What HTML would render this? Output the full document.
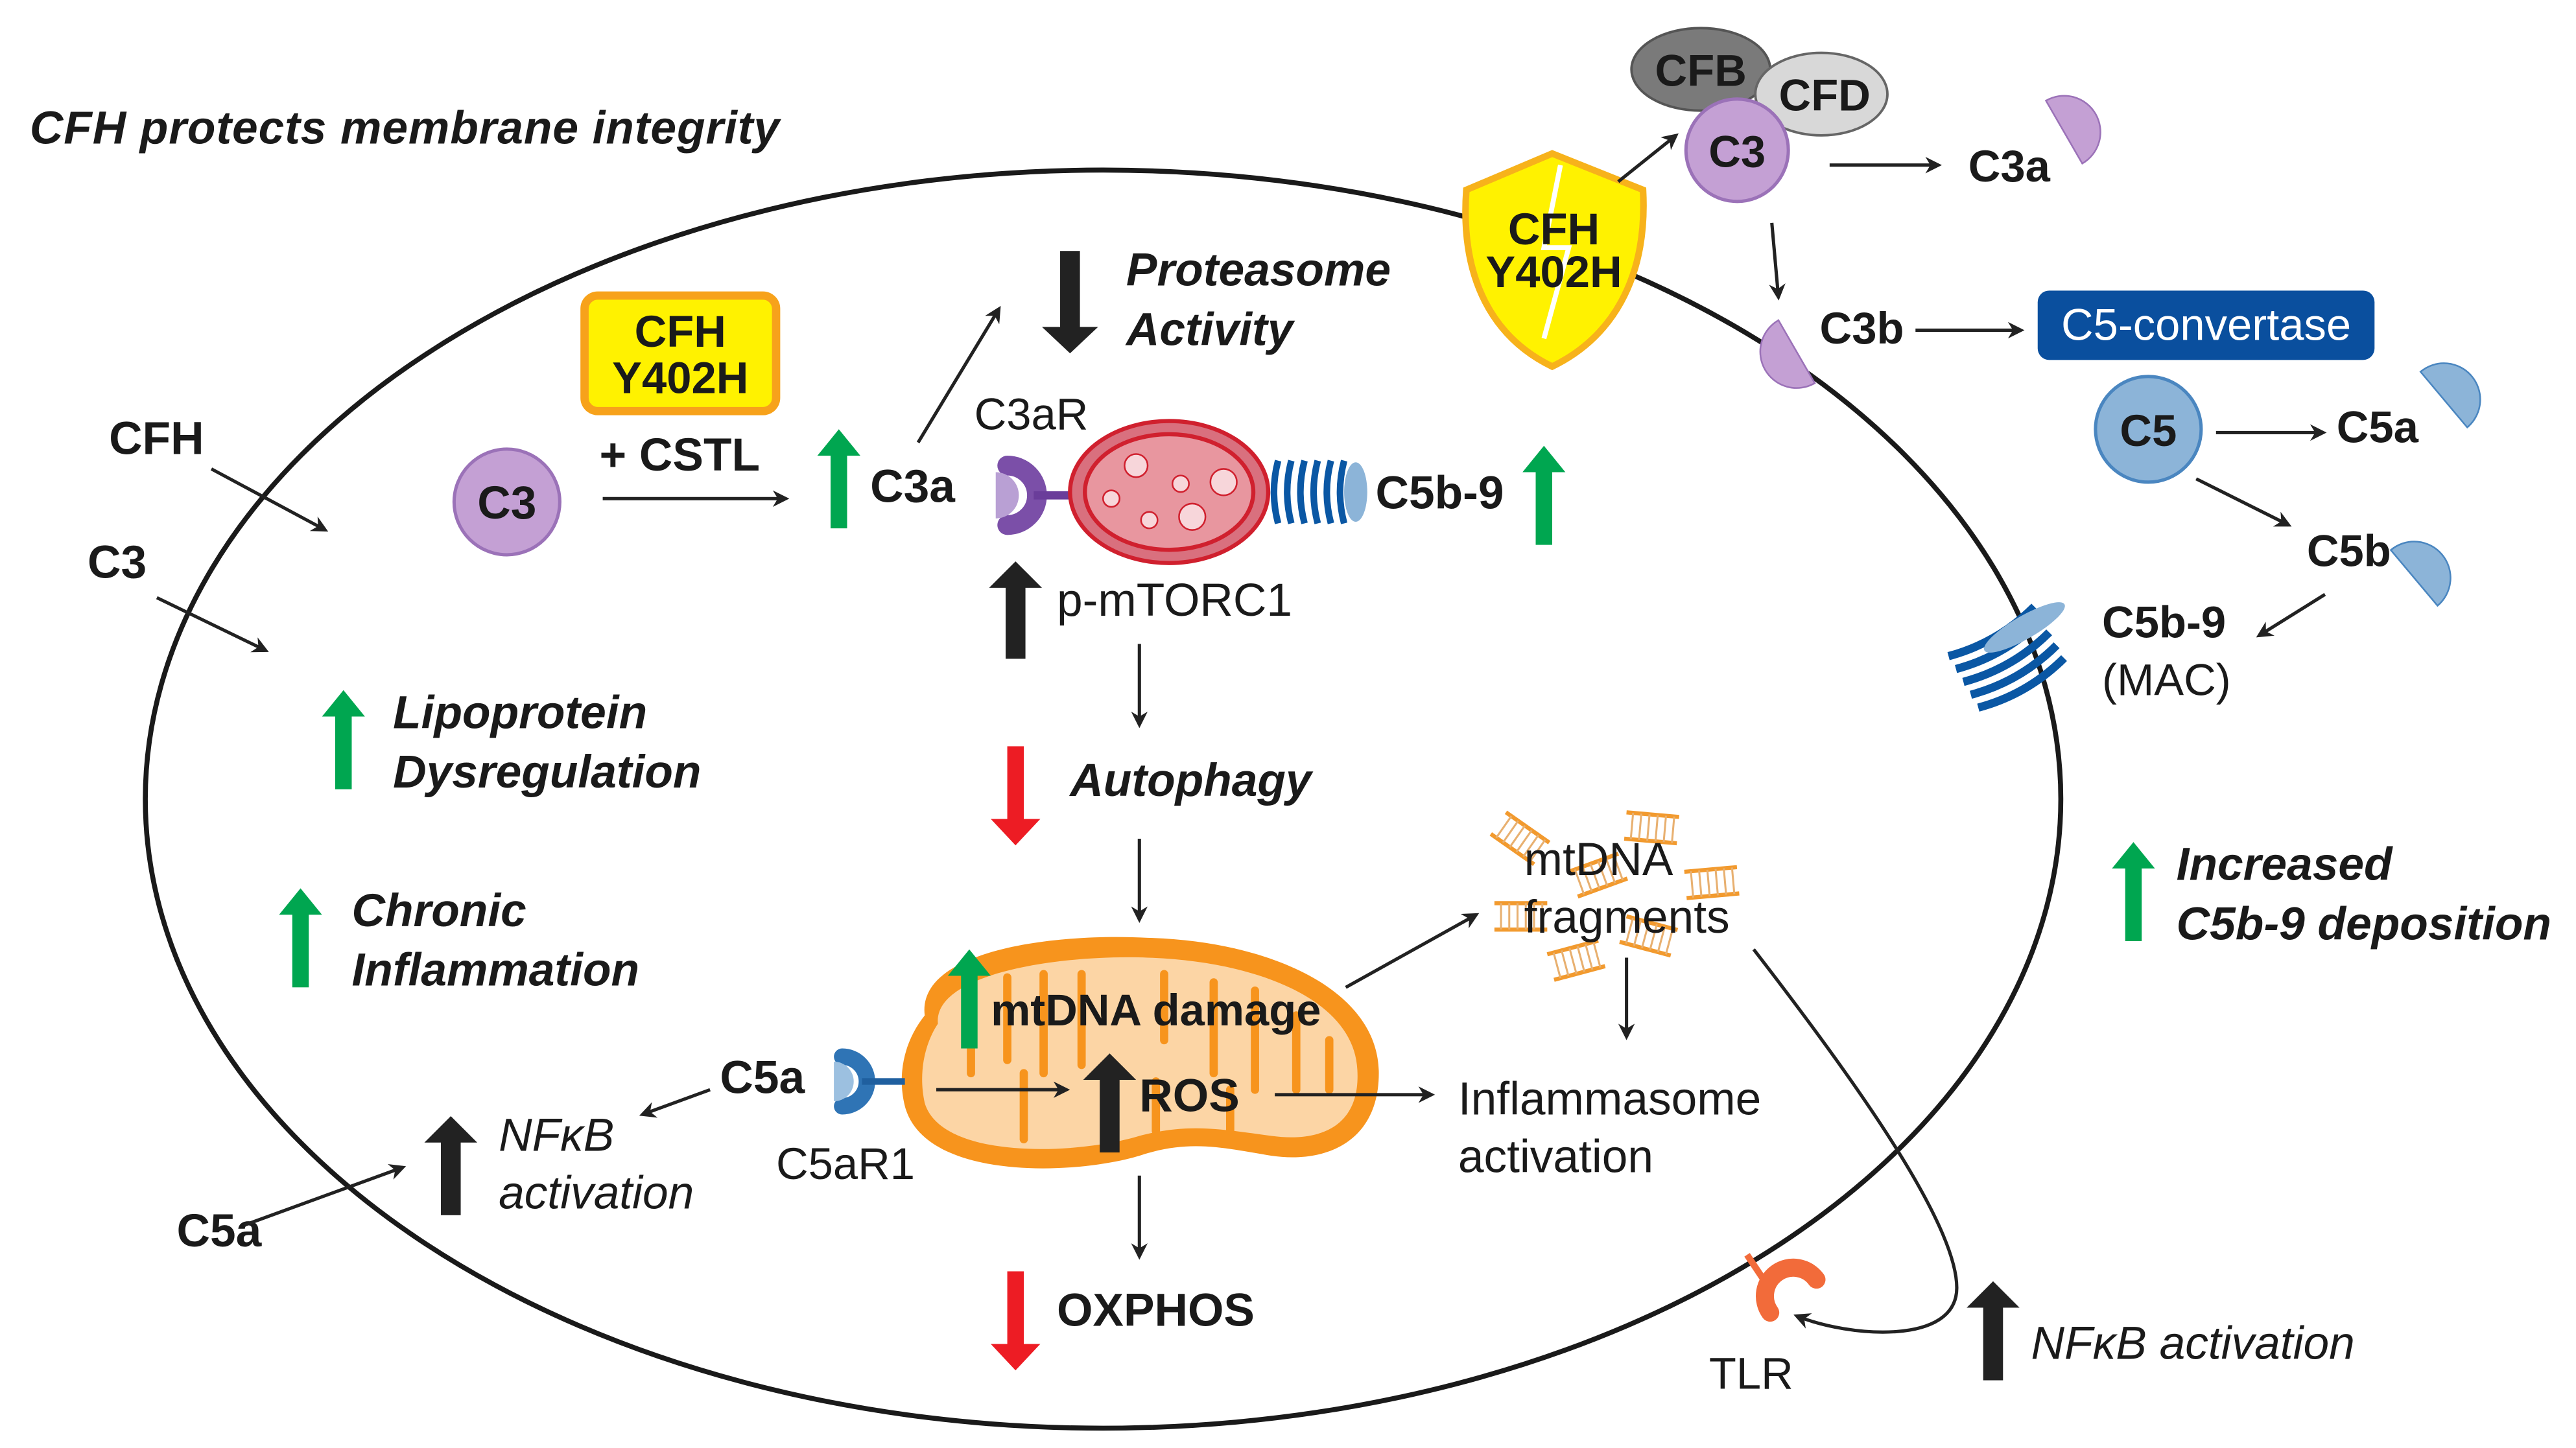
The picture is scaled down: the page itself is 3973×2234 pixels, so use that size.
<!DOCTYPE html>
<html><head><meta charset="utf-8"><style>
html,body{margin:0;padding:0;background:#fff;}
svg{display:block;}
text{font-family:"Liberation Sans",Arial,sans-serif;fill:#1a1a1a;}
.b{font-weight:bold;}
.bi{font-weight:bold;font-style:italic;}
.i{font-style:italic;}
</style></head><body>
<svg width="3973" height="2234" viewBox="0 0 1560 877" preserveAspectRatio="none" xmlns="http://www.w3.org/2000/svg">
<defs>
<marker id="ah" markerWidth="10" markerHeight="10" refX="8" refY="5" orient="auto" markerUnits="userSpaceOnUse" viewBox="0 0 10 10">
<path d="M0,0 L10,5 L0,10 L3,5 Z" fill="#222"/></marker>
<g id="up"><rect x="-5" y="12" width="10" height="46" /><polygon points="-13,14 0,-2 13,14"/></g>
<g id="ladder" stroke="#f29a2e" fill="none" stroke-width="2.5">
<line x1="0" y1="0" x2="32" y2="0"/><line x1="0" y1="16" x2="32" y2="16"/>
<path d="M4,0v16M9,0v16M14,0v16M19,0v16M24,0v16M29,0v16" stroke-width="1.2" stroke="#e8b070"/></g>
<g id="half"><path d="M0,-22 A22,22 0 0,1 0,22 Z"/></g>
</defs>

<ellipse cx="668" cy="484" rx="580" ry="381" fill="none" stroke="#1a1a1a" stroke-width="3"/>

<text x="18" y="87" font-size="28" class="bi" textLength="454">CFH protects membrane integrity</text>

<rect x="354" y="179" width="116" height="70" rx="8" fill="#fff200" stroke="#f7a21b" stroke-width="5"/>
<text x="412" y="210" font-size="27" class="b" text-anchor="middle">CFH</text>
<text x="412" y="238" font-size="27" class="b" text-anchor="middle">Y402H</text>
<text x="363" y="285" font-size="28" class="b">+ CSTL</text>
<line x1="365" y1="302" x2="476" y2="302" stroke="#222" stroke-width="2" marker-end="url(#ah)"/>
<circle cx="307" cy="304" r="32" fill="#c4a0d4" stroke="#9b72b8" stroke-width="2"/>
<text x="307" y="314" font-size="28" class="b" text-anchor="middle">C3</text>

<use href="#up" x="508" y="262" fill="#00a650"/>
<text x="527" y="304" font-size="28" class="b">C3a</text>
<line x1="556" y1="268" x2="605" y2="187" stroke="#222" stroke-width="2" marker-end="url(#ah)"/>
<g fill="#222" transform="translate(648,212) rotate(180)"><rect x="-6" y="12" width="12" height="48"/><polygon points="-17,14 0,-2 17,14"/></g>
<text x="682" y="173" font-size="28" class="bi">Proteasome</text>
<text x="682" y="209" font-size="28" class="bi">Activity</text>

<text x="590" y="260" font-size="27">C3aR</text>
<path d="M610,282 A18,18 0 0,1 610,318" fill="none" stroke="#7b4fa8" stroke-width="12" stroke-linecap="round"/>
<path d="M603,286 A14,14 0 0,1 603,314 Z" fill="#b9a0d4"/>
<line x1="626" y1="300" x2="655" y2="300" stroke="#6a3d9a" stroke-width="5"/>
<ellipse cx="708" cy="298" rx="60" ry="43" fill="#d9707e" stroke="#d0202e" stroke-width="2.5"/>
<ellipse cx="708" cy="298" rx="51" ry="35" fill="#e8969f" stroke="#d0202e" stroke-width="2.5"/>
<g fill="#f7d6da" stroke="#d0202e" stroke-width="1">
<circle cx="688" cy="282" r="7"/><circle cx="741" cy="292" r="8"/><circle cx="715" cy="293" r="5"/>
<circle cx="673" cy="302" r="5"/><circle cx="696" cy="315" r="5"/><circle cx="722" cy="313" r="8"/></g>
<g fill="none" stroke="#0a57a4" stroke-width="4">
<path d="M774,279 q-5,19 0,38"/><path d="M782,279 q-5,19 0,38"/><path d="M790,279 q-5,19 0,38"/><path d="M798,279 q-5,19 0,38"/><path d="M806,279 q-5,19 0,38"/><path d="M814,279 q-5,19 0,38"/></g>
<ellipse cx="821" cy="298" rx="7" ry="18" fill="#8cb4d8"/>
<text x="833" y="308" font-size="28" class="b">C5b-9</text>
<use href="#up" x="935" y="272" fill="#00a650"/>

<g fill="#222" transform="translate(615,342)"><rect x="-6" y="12" width="12" height="45"/><polygon points="-16,14 0,-2 16,14"/></g>
<text x="640" y="373" font-size="28">p-mTORC1</text>
<line x1="690" y1="390" x2="690" y2="439" stroke="#222" stroke-width="2" marker-end="url(#ah)"/>
<g fill="#ed1c24" transform="translate(615,510) rotate(180)"><rect x="-5" y="12" width="10" height="46"/><polygon points="-15,14 0,-2 15,14"/></g>
<text x="648" y="482" font-size="28" class="bi">Autophagy</text>
<line x1="690" y1="508" x2="690" y2="557" stroke="#222" stroke-width="2" marker-end="url(#ah)"/>

<path d="M560,615 C555,575 640,565 695,568 C770,570 835,600 835,650 C835,690 805,705 770,700 C740,695 720,690 690,700 C650,712 560,715 548,670 C543,650 548,630 560,615 Z" fill="#f7941d"/>
<path d="M568,620 C565,590 640,578 695,580 C760,582 820,605 822,648 C824,682 800,692 770,688 C740,684 720,680 690,688 C650,700 570,702 560,668 C556,650 560,632 568,620 Z" fill="#fcd5a5"/>
<g stroke="#f7941d" stroke-width="5" fill="none" stroke-linecap="round">
<path d="M588,610 v40"/><path d="M610,592 v50"/><path d="M632,590 v60"/><path d="M655,590 v55"/><path d="M705,590 v40"/><path d="M735,595 v55"/><path d="M760,600 v60"/><path d="M785,615 v45"/><path d="M805,630 v30"/><path d="M620,650 v40"/><path d="M700,655 v30"/><path d="M745,660 v25"/></g>
<use href="#up" x="587" y="577" fill="#00a650"/>
<text x="600" y="621" font-size="27" class="b">mtDNA damage</text>
<g fill="#222" transform="translate(672,640)"><rect x="-6" y="12" width="12" height="46"/><polygon points="-16,14 0,-2 16,14"/></g>
<text x="690" y="673" font-size="28" class="b">ROS</text>
<line x1="567" y1="660" x2="646" y2="660" stroke="#222" stroke-width="2" marker-end="url(#ah)"/>
<line x1="772" y1="663" x2="867" y2="663" stroke="#222" stroke-width="2" marker-end="url(#ah)"/>
<text x="883" y="675" font-size="28">Inflammasome</text>
<text x="883" y="710" font-size="28">activation</text>
<line x1="815" y1="598" x2="894" y2="554" stroke="#222" stroke-width="2" marker-end="url(#ah)"/>

<use href="#ladder" transform="translate(912,492) rotate(35)"/>
<use href="#ladder" transform="translate(985,492) rotate(5)"/>
<use href="#ladder" transform="translate(1020,528) rotate(-5)"/>
<use href="#ladder" transform="translate(950,528) rotate(-20)"/>
<use href="#ladder" transform="translate(905,547)"/>
<use href="#ladder" transform="translate(985,555) rotate(15)"/>
<use href="#ladder" transform="translate(937,578) rotate(-15)"/>
<text x="923" y="530" font-size="28">mtDNA</text>
<text x="923" y="565" font-size="28">fragments</text>
<line x1="985" y1="580" x2="985" y2="628" stroke="#222" stroke-width="2" marker-end="url(#ah)"/>
<path d="M1062,575 C1120,650 1185,740 1185,780 C1185,815 1120,810 1088,797" fill="none" stroke="#222" stroke-width="2" marker-end="url(#ah)"/>
<path d="M1072,795 A16,16 0 0,1 1100,775" fill="none" stroke="#f26b3a" stroke-width="11" stroke-linecap="round"/>
<line x1="1070" y1="778" x2="1058" y2="760" stroke="#f26b3a" stroke-width="4"/>
<text x="1035" y="841" font-size="27">TLR</text>
<g fill="#222" transform="translate(1207,778)"><rect x="-6" y="12" width="12" height="46"/><polygon points="-16,14 0,-2 16,14"/></g>
<text x="1230" y="823" font-size="28" class="i">NFκB activation</text>

<line x1="690" y1="712" x2="690" y2="761" stroke="#222" stroke-width="2" marker-end="url(#ah)"/>
<g fill="#ed1c24" transform="translate(615,828) rotate(180)"><rect x="-5" y="12" width="10" height="46"/><polygon points="-15,14 0,-2 15,14"/></g>
<text x="640" y="803" font-size="28" class="b">OXPHOS</text>

<path d="M510,640 A15,15 0 0,1 510,670" fill="none" stroke="#2f74b5" stroke-width="10" stroke-linecap="round"/>
<path d="M505,643 A12,12 0 0,1 505,667 Z" fill="#9cc0e0"/>
<line x1="522" y1="655" x2="548" y2="655" stroke="#1f5f9f" stroke-width="4"/>
<text x="436" y="662" font-size="28" class="b">C5a</text>
<line x1="430" y1="660" x2="389" y2="675" stroke="#222" stroke-width="2" marker-end="url(#ah)"/>
<text x="470" y="714" font-size="27">C5aR1</text>
<g fill="#222" transform="translate(273,678)"><rect x="-6" y="12" width="12" height="46"/><polygon points="-16,14 0,-2 16,14"/></g>
<text x="302" y="697" font-size="28" class="i">NFκB</text>
<text x="302" y="732" font-size="28" class="i">activation</text>
<text x="107" y="755" font-size="28" class="b">C5a</text>
<line x1="148" y1="742" x2="244" y2="707" stroke="#222" stroke-width="2" marker-end="url(#ah)"/>

<use href="#up" x="182" y="540" fill="#00a650"/>
<text x="213" y="561" font-size="28" class="bi">Chronic</text>
<text x="213" y="597" font-size="28" class="bi">Inflammation</text>
<use href="#up" x="208" y="420" fill="#00a650"/>
<text x="238" y="441" font-size="28" class="bi">Lipoprotein</text>
<text x="238" y="477" font-size="28" class="bi">Dysregulation</text>

<text x="66" y="275" font-size="28" class="b">CFH</text>
<line x1="128" y1="284" x2="197" y2="321" stroke="#222" stroke-width="2" marker-end="url(#ah)"/>
<text x="53" y="350" font-size="28" class="b">C3</text>
<line x1="95" y1="362" x2="161" y2="394" stroke="#222" stroke-width="2" marker-end="url(#ah)"/>

<path d="M888,115 L940,93 L995,115 C998,170 975,205 940,222 C905,205 884,170 888,115 Z" fill="#fff200" stroke="#f7b21b" stroke-width="4"/>
<path d="M945,100 L935,150 L950,150 L935,205" fill="none" stroke="#fff" stroke-width="3"/>
<text x="941" y="148" font-size="27" class="b" text-anchor="middle">CFH</text>
<text x="941" y="174" font-size="27" class="b" text-anchor="middle">Y402H</text>
<line x1="980" y1="110" x2="1015" y2="82" stroke="#222" stroke-width="2" marker-end="url(#ah)"/>

<ellipse cx="1030" cy="42" rx="42" ry="25" fill="#7a7a7a" stroke="#555" stroke-width="1.5"/>
<text x="1030" y="52" font-size="27" class="b" text-anchor="middle">CFB</text>
<ellipse cx="1103" cy="57" rx="40" ry="25" fill="#d8d8d8" stroke="#666" stroke-width="1.5"/>
<text x="1105" y="67" font-size="27" class="b" text-anchor="middle">CFD</text>
<circle cx="1052" cy="91" r="31" fill="#c4a0d4" stroke="#9b72b8" stroke-width="2"/>
<text x="1052" y="101" font-size="27" class="b" text-anchor="middle">C3</text>
<line x1="1108" y1="100" x2="1174" y2="100" stroke="#222" stroke-width="2" marker-end="url(#ah)"/>
<text x="1192" y="110" font-size="27" class="b">C3a</text>
<use href="#half" transform="translate(1250,80) rotate(-30)" fill="#c4a0d4" stroke="#9b72b8"/>
<line x1="1073" y1="135" x2="1077" y2="180" stroke="#222" stroke-width="2" marker-end="url(#ah)"/>
<use href="#half" transform="translate(1088,213) rotate(150)" fill="#c4a0d4" stroke="#9b72b8"/>
<text x="1102" y="208" font-size="27" class="b">C3b</text>
<line x1="1160" y1="200" x2="1224" y2="200" stroke="#222" stroke-width="2" marker-end="url(#ah)"/>
<rect x="1234" y="176" width="204" height="42" rx="7" fill="#0a4f9e"/>
<text x="1336" y="206" font-size="27" style="fill:#fff" text-anchor="middle">C5-convertase</text>

<circle cx="1301" cy="260" r="32" fill="#8cb4d8" stroke="#4a86c0" stroke-width="2"/>
<text x="1301" y="270" font-size="27" class="b" text-anchor="middle">C5</text>
<line x1="1342" y1="262" x2="1407" y2="262" stroke="#222" stroke-width="2" marker-end="url(#ah)"/>
<text x="1415" y="268" font-size="27" class="b">C5a</text>
<use href="#half" transform="translate(1480,242) rotate(-40)" fill="#8cb4d8" stroke="#4a86c0"/>
<line x1="1330" y1="290" x2="1386" y2="318" stroke="#222" stroke-width="2" marker-end="url(#ah)"/>
<text x="1397" y="343" font-size="27" class="b">C5b</text>
<use href="#half" transform="translate(1462,350) rotate(-40)" fill="#8cb4d8" stroke="#4a86c0"/>
<line x1="1408" y1="360" x2="1368" y2="385" stroke="#222" stroke-width="2" marker-end="url(#ah)"/>
<text x="1273" y="386" font-size="27" class="b">C5b-9</text>
<text x="1273" y="421" font-size="27">(MAC)</text>
<g fill="none" stroke="#0a57a4" stroke-width="5" transform="translate(1215,398) rotate(-30)">
<path d="M-30,-18 q30,8 60,0"/><path d="M-30,-9 q30,8 60,0"/><path d="M-30,0 q30,8 60,0"/><path d="M-30,9 q30,8 60,0"/><path d="M-30,18 q30,8 60,0"/></g>
<ellipse cx="1226" cy="380" rx="28" ry="7" transform="rotate(-30 1226 380)" fill="#8cb4d8"/>

<use href="#up" x="1292" y="512" fill="#00a650"/>
<text x="1318" y="533" font-size="28" class="bi">Increased</text>
<text x="1318" y="569" font-size="28" class="bi">C5b-9 deposition</text>
</svg>
</body></html>
